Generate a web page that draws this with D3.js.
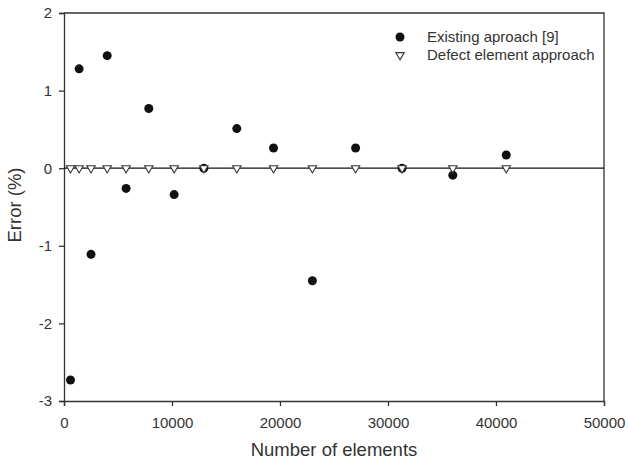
<!DOCTYPE html>
<html>
<head>
<meta charset="utf-8">
<script src="https://cdn.jsdelivr.net/npm/d3@7"></script>
<style>
  body { margin: 0; background: #fff; }
  text { font-family: "Liberation Sans", Arial, sans-serif; fill: #333; }
</style>
</head>
<body>
<div id="chart-area"></div>
<script>
// data
const elements = [600, 1400, 2500, 4000, 5750, 7850, 10200, 12950, 16000, 19400, 23000, 27000, 31300, 36000, 40950]
const existing = [-2.73, 1.28, -1.11, 1.45, -0.26, 0.77, -0.34, 0.0, 0.51, 0.26, -1.45, 0.26, 0.0, -0.09, 0.17]
const defect = [0, 0, 0, 0, 0, 0, 0, 0, 0, 0, 0, 0, 0, 0, 0]
const xTicks = [0, 10000, 20000, 30000, 40000, 50000]
const yTicks = [-3, -2, -1, 0, 1, 2]
const seriesNames = ['Existing aproach [9]', 'Defect element approach']

const canvas = { width: 628, height: 462 }
const margin = { left: 64, right: 24, top: 13, bottom: 61 }
const group = {
    width: canvas.width - margin.left - margin.right,
    height: canvas.height - margin.top - margin.bottom
}
const axisColor = '#333'

let svg = d3.select('#chart-area')
    .append('svg')
    .attr('width', canvas.width)
    .attr('height', canvas.height)

let g = svg.append('g')
    .attr('transform', `translate(${margin.left},${margin.top})`)

let scaleX = d3.scaleLinear().domain([0, 50000]).range([0, group.width])
let scaleY = d3.scaleLinear().domain([-3, 2]).range([group.height, 0])

// frame (top and right sides)
g.append('path')
    .attr('d', `M0,0H${group.width}V${group.height}`)
    .attr('fill', 'none')
    .attr('stroke', axisColor)
    .attr('stroke-width', 1.3)

// x-axis
let xAxis = d3.axisBottom(scaleX)
    .tickValues(xTicks)
    .tickSize(5)
    .tickPadding(11)
    .tickFormat(d => String(d))
let xg = g.append('g')
    .attr('transform', `translate(0, ${group.height})`)
    .call(xAxis)

// y-axis
let yAxis = d3.axisLeft(scaleY)
    .tickValues(yTicks)
    .tickSize(5)
    .tickPadding(7)
    .tickFormat(d => String(d))
let yg = g.append('g').call(yAxis)

for (const ax of [xg, yg]) {
    ax.select('.domain').attr('stroke', axisColor).attr('stroke-width', 1.3)
    ax.selectAll('.tick line').attr('stroke', axisColor).attr('stroke-width', 1.3)
    ax.selectAll('.tick text')
        .attr('fill', '#333')
        .style('font-size', '15px')
        .style('font-family', '"Liberation Sans", Arial, sans-serif')
}

// zero line
g.append('line')
    .attr('x1', 0).attr('x2', group.width)
    .attr('y1', scaleY(0)).attr('y2', scaleY(0))
    .attr('stroke', '#111')
    .attr('stroke-width', 1.2)

// axis titles
svg.append('text')
    .attr('x', margin.left + group.width / 2)
    .attr('y', 456)
    .attr('text-anchor', 'middle')
    .style('font-size', '18.5px')
    .text('Number of elements')

svg.append('text')
    .attr('transform', 'rotate(-90)')
    .attr('x', -205)
    .attr('y', 21)
    .attr('text-anchor', 'middle')
    .style('font-size', '18.5px')
    .text('Error (%)')

const tri = d3.symbol().type(d3.symbolTriangle).size(30)

// existing approach
g.selectAll('circle.existing')
    .data(elements)
    .enter()
    .append('circle')
    .attr('class', 'existing')
    .attr('cx', d => scaleX(d))
    .attr('cy', (d, i) => scaleY(existing[i]))
    .attr('r', 4.5)
    .attr('fill', '#111')

// defect element approach
g.selectAll('path.defect')
    .data(elements)
    .enter()
    .append('path')
    .attr('class', 'defect')
    .attr('d', tri)
    .attr('transform', (d, i) => `translate(${scaleX(d)},${scaleY(defect[i])}) rotate(180)`)
    .attr('fill', '#fff')
    .attr('stroke', '#333')
    .attr('stroke-width', 1.1)

// legend
let legend = svg.append('g').attr('transform', 'translate(400, 37)')
legend.append('circle').attr('cx', 0).attr('cy', 0).attr('r', 4.5).attr('fill', '#111')
legend.append('path')
    .attr('d', tri)
    .attr('transform', 'translate(0, 18) rotate(180)')
    .attr('fill', '#fff')
    .attr('stroke', '#333')
    .attr('stroke-width', 1.1)
legend.selectAll('text.label')
    .data(seriesNames)
    .enter()
    .append('text')
    .attr('class', 'label')
    .attr('x', 27)
    .attr('y', (d, i) => i * 18 + 5)
    .style('font-size', '15px')
    .text(d => d)
</script>
</body>
</html>
